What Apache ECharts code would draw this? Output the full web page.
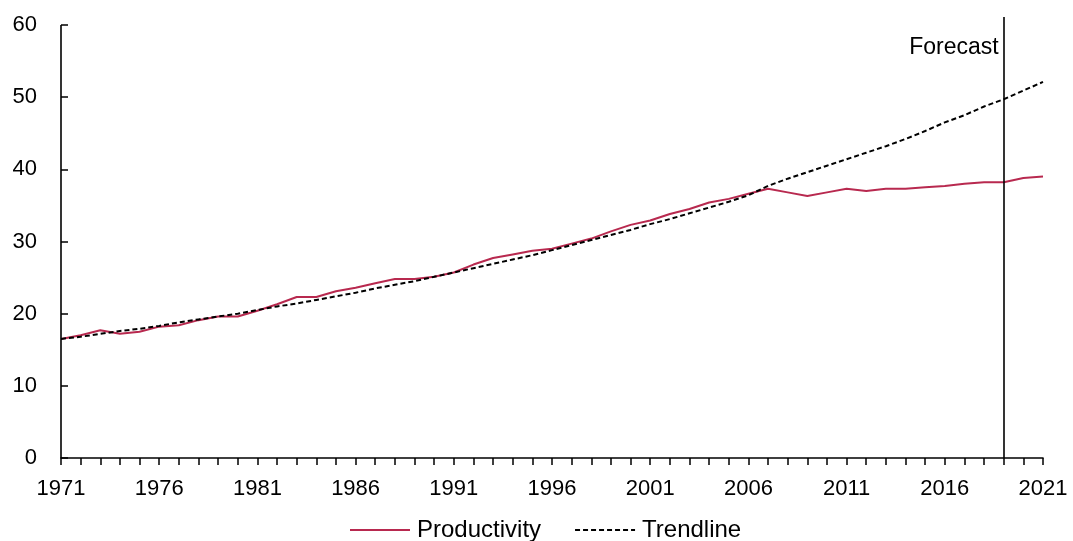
<!DOCTYPE html>
<html>
<head>
<meta charset="utf-8">
<script src="https://cdn.jsdelivr.net/npm/echarts@6/dist/echarts.min.js"></script>
<style>
html,body{margin:0;padding:0;background:#fff;}
#chart{width:1073px;height:541px;}
</style>
</head>
<body>
<div id="chart"></div>
<script>
const years = [];
for (let y = 1971; y <= 2021; y++) years.push(String(y));

const productivity = [
  16.5, 17.0, 17.7, 17.2, 17.5, 18.2, 18.4, 19.1, 19.6, 19.6,
  20.4, 21.3, 22.3, 22.3, 23.1, 23.6, 24.2, 24.8, 24.8, 25.1,
  25.7, 26.8, 27.7, 28.2, 28.7, 29.0, 29.7, 30.4, 31.4, 32.3,
  32.9, 33.8, 34.5, 35.4, 35.9, 36.6, 37.3, 36.8, 36.3, 36.8,
  37.3, 37.0, 37.3, 37.3, 37.5, 37.7, 38.0, 38.2, 38.2, 38.8,
  39.0
];

const trendline = [
  16.5, 16.8, 17.2, 17.6, 17.9, 18.3, 18.8, 19.2, 19.6, 20.0,
  20.5, 21.0, 21.4, 21.9, 22.4, 22.9, 23.5, 24.0, 24.5, 25.1,
  25.7, 26.3, 26.9, 27.5, 28.1, 28.8, 29.5, 30.2, 30.9, 31.6,
  32.4, 33.1, 33.9, 34.7, 35.5, 36.4, 37.7, 38.7, 39.6, 40.5,
  41.4, 42.3, 43.2, 44.2, 45.3, 46.5, 47.5, 48.7, 49.7, 50.9,
  52.1
];

const yTicks = [0, 10, 20, 30, 40, 50, 60];
const forecastYear = '2019';
const forecastTop = 61.1;
const forecastLabelValue = 56.8;
const seriesNames = ['Productivity', 'Trendline'];

const font = 'Liberation Sans, Arial, sans-serif';
const chart = echarts.init(document.getElementById('chart'), null, {renderer: 'canvas'});
chart.setOption({
  animation: false,
  backgroundColor: '#ffffff',
  grid: {left: 61, right: 30, top: 17, bottom: 83, containLabel: false},
  legend: {
    top: 513,
    left: 344,
    itemWidth: 60,
    itemHeight: 10,
    itemGap: 33,
    itemStyle: {opacity: 0},
    textStyle: {fontFamily: font, fontSize: 24, color: '#000', padding: [0, 0, 0, 2]},
    data: seriesNames
  },
  xAxis: {
    type: 'category',
    data: years,
    boundaryGap: false,
    axisLine: {lineStyle: {color: '#000', width: 1.6}},
    axisTick: {show: true, interval: 0, length: 7, inside: false, lineStyle: {color: '#000', width: 1.5}},
    axisLabel: {interval: 4, fontFamily: font, fontSize: 22, color: '#000', margin: 20},
    splitLine: {show: false}
  },
  yAxis: {
    type: 'value',
    min: 0,
    max: forecastTop,
    axisLine: {show: false},
    axisTick: {show: true, inside: true, length: 7, customValues: yTicks, lineStyle: {color: '#000', width: 1.5}},
    axisLabel: {fontFamily: font, fontSize: 22, color: '#000', margin: 24, customValues: yTicks},
    splitLine: {show: false}
  },
  series: [
    {
      name: seriesNames[0],
      type: 'line',
      data: productivity,
      symbol: 'none',
      itemStyle: {color: '#B8294F'},
      lineStyle: {color: '#B8294F', width: 2},
      z: 3,
      markLine: {
        silent: true,
        symbol: 'none',
        animation: false,
        label: {show: false},
        lineStyle: {color: '#000', width: 1.6, type: 'solid'},
        data: [
          [{coord: [forecastYear, 0]}, {coord: [forecastYear, forecastTop]}],
          [{coord: [years[0], 0]}, {coord: [years[0], yTicks[yTicks.length - 1]]}]
        ]
      }
    },
    {
      name: seriesNames[1],
      type: 'line',
      data: trendline,
      symbol: 'none',
      itemStyle: {color: '#000'},
      lineStyle: {color: '#000', width: 2, type: [5, 3]},
      z: 4,
      markPoint: {
        silent: true,
        symbol: 'circle',
        symbolSize: 0,
        data: [{coord: [forecastYear, forecastLabelValue]}],
        label: {
          show: true,
          position: 'left',
          distance: 5,
          formatter: 'Forecast',
          fontFamily: font,
          fontSize: 23,
          color: '#000'
        }
      }
    }
  ]
});
</script>
</body>
</html>
